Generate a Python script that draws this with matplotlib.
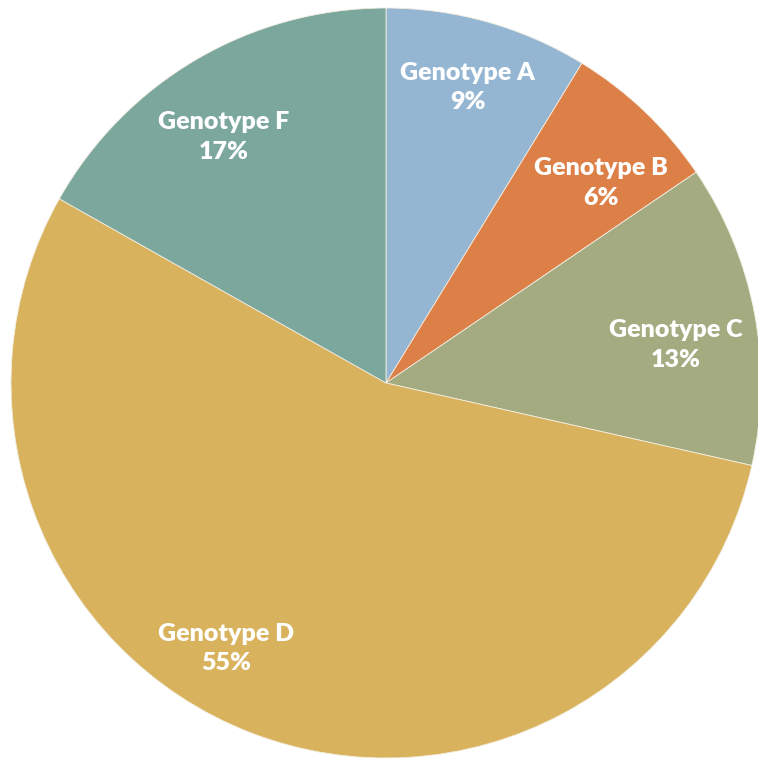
import matplotlib
matplotlib.use("Agg")
import matplotlib.pyplot as plt
import numpy as np

categories = ["Genotype A", "Genotype B", "Genotype C", "Genotype D", "Genotype F"]
values = [8.75, 6.75, 13.03, 54.64, 16.83]
pct_labels = ["9%", "6%", "13%", "55%", "17%"]
colors = ["#94B6D2", "#DD8047", "#A5AB81", "#D8B25C", "#7BA79D"]

# label placement (angle offset in degrees from wedge middle, radius)
label_layout = [(0.3, 0.817), (-3.4, 0.783), (-3.3, 0.78), (-10.0, 0.826), (3.1, 0.785)]

W, H = 758, 762
fig = plt.figure(figsize=(W / 100, H / 100), dpi=100)
cx, cy, R = 386, 383, 375
ax = fig.add_axes([(cx - R) / W, (H - cy - R) / H, 2 * R / W, 2 * R / H])

wedges, _ = ax.pie(values, colors=colors, startangle=90, counterclock=False,
                   radius=1.0, wedgeprops=dict(edgecolor="#F3EDE0", linewidth=0.6))
ax.set_xlim(-1, 1)
ax.set_ylim(-1, 1)
ax.set_aspect("equal")
ax.axis("off")
for w in wedges:
    w.set_clip_on(False)

for w, cat, pct, (dang, r) in zip(wedges, categories, pct_labels, label_layout):
    mid = 0.5 * (w.theta1 + w.theta2) + dang
    x = r * np.cos(np.deg2rad(mid))
    y = r * np.sin(np.deg2rad(mid))
    ax.text(x, y, f"{cat}\n{pct}", ha="center", va="center", color="white",
            fontsize=18, fontweight="heavy", family=["Lato", "DejaVu Sans"],
            linespacing=1.42)

fig.savefig("out.png", dpi=100, facecolor="white")
